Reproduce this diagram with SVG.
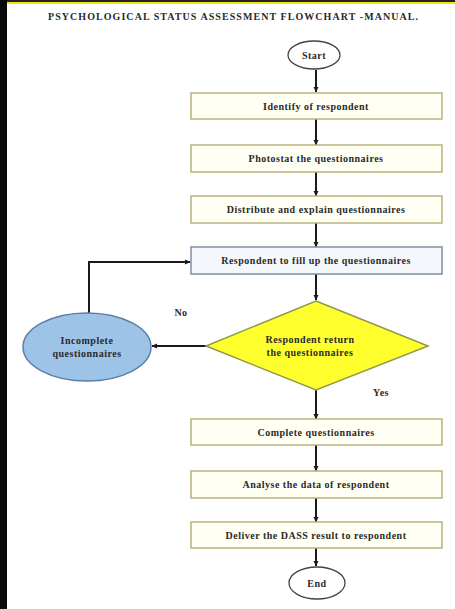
<svg xmlns="http://www.w3.org/2000/svg" width="455" height="609" viewBox="0 0 455 609">
<defs>
<marker id="ah" markerWidth="6" markerHeight="6" refX="5" refY="3" orient="auto" markerUnits="userSpaceOnUse">
<path d="M0,0.5 L5.5,3 L0,5.5 Z" fill="#1a1a1a"/>
</marker>
<style>
.t{font-family:"Liberation Serif","Times New Roman",serif;font-weight:bold;font-size:10px;letter-spacing:0.5px;fill:#2a2a2a;text-anchor:middle}
.box{fill:#fffff4;stroke:#b9b27c;stroke-width:1.5}
.bbox{fill:#f4f8fc;stroke:#7f8ea3;stroke-width:1.5}
.term{fill:#fff;stroke:#444;stroke-width:1.3}
.c{fill:none;stroke:#1a1a1a;stroke-width:2}
</style>
</defs>
<rect x="0" y="0" width="455" height="609" fill="#fff"/>
<rect x="0" y="0" width="455" height="2" fill="#222"/>
<rect x="0" y="2" width="455" height="2" fill="#f2e51c"/>
<rect x="0" y="0" width="7" height="609" fill="#0a0a0a"/>
<text class="t" x="233" y="20" style="font-size:10px;letter-spacing:0" textLength="370" lengthAdjust="spacing">PSYCHOLOGICAL STATUS ASSESSMENT FLOWCHART -MANUAL.</text>

<g id="connectors">
<line class="c" x1="316" y1="70" x2="316" y2="92" marker-end="url(#ah)"/>
<line class="c" x1="316" y1="119" x2="316" y2="145" marker-end="url(#ah)"/>
<line class="c" x1="316" y1="172" x2="316" y2="196" marker-end="url(#ah)"/>
<line class="c" x1="316" y1="223" x2="316" y2="247" marker-end="url(#ah)"/>
<line class="c" x1="316" y1="274" x2="316" y2="300" marker-end="url(#ah)"/>
<line class="c" x1="206" y1="346" x2="152" y2="346" marker-end="url(#ah)"/>
<polyline class="c" points="89,313 89,262 190,262" marker-end="url(#ah)"/>
<line class="c" x1="316" y1="390" x2="316" y2="419" marker-end="url(#ah)"/>
<line class="c" x1="316" y1="445" x2="316" y2="471" marker-end="url(#ah)"/>
<line class="c" x1="316" y1="498" x2="316" y2="522" marker-end="url(#ah)"/>
<line class="c" x1="316" y1="548" x2="316" y2="566" marker-end="url(#ah)"/>
<text class="t" x="181" y="316">No</text>
<text class="t" x="381" y="396">Yes</text>
</g>

<g id="start"><ellipse class="term" cx="314" cy="55" rx="26" ry="14"/><text class="t" x="314" y="59">Start</text></g>
<g id="identify"><rect class="box" x="191" y="93" width="251" height="26"/><text class="t" x="316" y="110">Identify of respondent</text></g>
<g id="photostat"><rect class="box" x="191" y="145" width="251" height="27"/><text class="t" x="316" y="162">Photostat the questionnaires</text></g>
<g id="distribute"><rect class="box" x="191" y="196" width="251" height="27"/><text class="t" x="316" y="213">Distribute and explain questionnaires</text></g>
<g id="fill"><rect class="bbox" x="191" y="247" width="251" height="27"/><text class="t" x="316" y="264">Respondent to fill up the questionnaires</text></g>
<g id="decision"><polygon points="316,301 428,346 316,390 206,346" fill="#ffff2e" stroke="#8f9a4a" stroke-width="1.5"/><text class="t" x="310" y="343">Respondent return</text><text class="t" x="310" y="356">the questionnaires</text></g>
<g id="incomplete"><ellipse cx="87" cy="347" rx="64" ry="34" fill="#9dc3e6" stroke="#5b7fa6" stroke-width="1.5"/><text class="t" x="87" y="344">Incomplete</text><text class="t" x="87" y="357">questionnaires</text></g>
<g id="complete"><rect class="box" x="191" y="419" width="251" height="26"/><text class="t" x="316" y="436">Complete questionnaires</text></g>
<g id="analyse"><rect class="box" x="191" y="471" width="251" height="27"/><text class="t" x="316" y="488">Analyse the data of respondent</text></g>
<g id="deliver"><rect class="box" x="191" y="522" width="251" height="26"/><text class="t" x="316" y="539">Deliver the DASS result to respondent</text></g>
<g id="end"><ellipse class="term" cx="317" cy="583" rx="28" ry="16"/><text class="t" x="317" y="587">End</text></g>
</svg>
